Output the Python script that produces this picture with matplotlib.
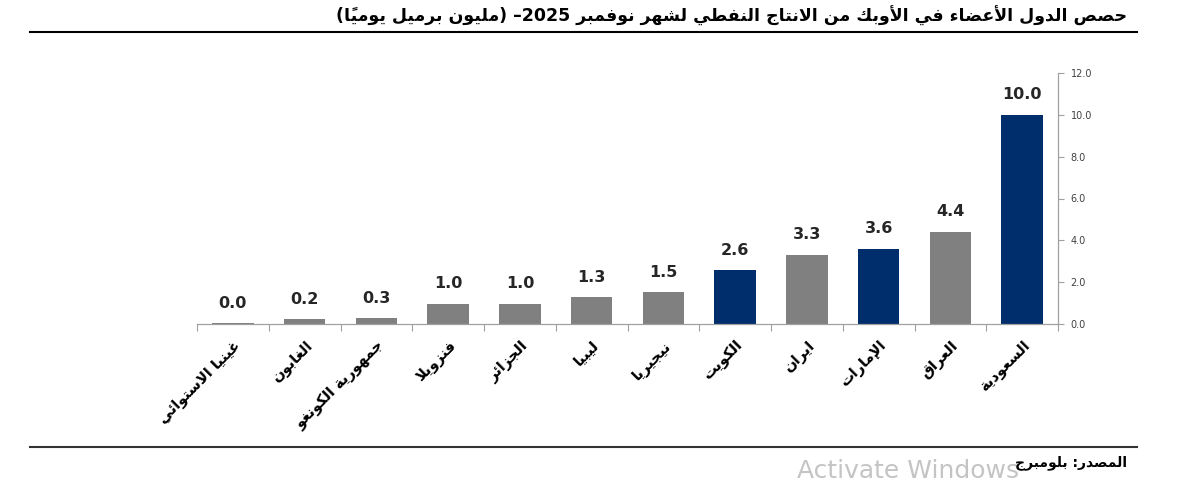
import matplotlib
matplotlib.use("Agg")
import matplotlib.pyplot as plt
import numpy as np
from matplotlib.lines import Line2D

# data, in display order (left to right)
countries = ["غينيا الاستوائي", "الغابون", "جمهورية الكونغو", "فنزويلا", "الجزائر", "ليبيا",
             "نيجيريا", "الكويت", "ايران", "الإمارات", "العراق", "السعودية"]
production = [0.04, 0.22, 0.27, 0.97, 0.97, 1.28, 1.52, 2.58, 3.3, 3.6, 4.4, 10.0]
highlight = [False, False, False, False, False, False, False, True, False, True, False, True]
yticks = [0, 2, 4, 6, 8, 10, 12]

title = "حصص الدول الأعضاء في الأوبك من الانتاج النفطي لشهر نوفمبر 2025– (مليون برميل يومياً)"
source = "المصدر: بلومبرج"

NAVY = "#002d6b"
GRAY = "#808080"

# --- minimal arabic shaping (matplotlib has no text shaping) ---
# letter: (isolated, final, initial, medial); right-joining letters have only 2 forms
FORMS = {
    "ء": (0xFE80,), "آ": (0xFE81, 0xFE82), "أ": (0xFE83, 0xFE84), "ؤ": (0xFE85, 0xFE86),
    "إ": (0xFE87, 0xFE88), "ئ": (0xFE89, 0xFE8A, 0xFE8B, 0xFE8C), "ا": (0xFE8D, 0xFE8E),
    "ب": (0xFE8F, 0xFE90, 0xFE91, 0xFE92), "ة": (0xFE93, 0xFE94),
    "ت": (0xFE95, 0xFE96, 0xFE97, 0xFE98), "ث": (0xFE99, 0xFE9A, 0xFE9B, 0xFE9C),
    "ج": (0xFE9D, 0xFE9E, 0xFE9F, 0xFEA0), "ح": (0xFEA1, 0xFEA2, 0xFEA3, 0xFEA4),
    "خ": (0xFEA5, 0xFEA6, 0xFEA7, 0xFEA8), "د": (0xFEA9, 0xFEAA), "ذ": (0xFEAB, 0xFEAC),
    "ر": (0xFEAD, 0xFEAE), "ز": (0xFEAF, 0xFEB0), "س": (0xFEB1, 0xFEB2, 0xFEB3, 0xFEB4),
    "ش": (0xFEB5, 0xFEB6, 0xFEB7, 0xFEB8), "ص": (0xFEB9, 0xFEBA, 0xFEBB, 0xFEBC),
    "ض": (0xFEBD, 0xFEBE, 0xFEBF, 0xFEC0), "ط": (0xFEC1, 0xFEC2, 0xFEC3, 0xFEC4),
    "ظ": (0xFEC5, 0xFEC6, 0xFEC7, 0xFEC8), "ع": (0xFEC9, 0xFECA, 0xFECB, 0xFECC),
    "غ": (0xFECD, 0xFECE, 0xFECF, 0xFED0), "ف": (0xFED1, 0xFED2, 0xFED3, 0xFED4),
    "ق": (0xFED5, 0xFED6, 0xFED7, 0xFED8), "ك": (0xFED9, 0xFEDA, 0xFEDB, 0xFEDC),
    "ل": (0xFEDD, 0xFEDE, 0xFEDF, 0xFEE0), "م": (0xFEE1, 0xFEE2, 0xFEE3, 0xFEE4),
    "ن": (0xFEE5, 0xFEE6, 0xFEE7, 0xFEE8), "ه": (0xFEE9, 0xFEEA, 0xFEEB, 0xFEEC),
    "و": (0xFEED, 0xFEEE), "ى": (0xFEEF, 0xFEF0), "ي": (0xFEF1, 0xFEF2, 0xFEF3, 0xFEF4),
}
LAM_ALEF = {"آ": (0xFEF5, 0xFEF6), "أ": (0xFEF7, 0xFEF8), "إ": (0xFEF9, 0xFEFA), "ا": (0xFEFB, 0xFEFC)}
MIRROR = {"(": ")", ")": "("}


def is_mark(c):
    return len(c) == 1 and (0x064B <= ord(c) <= 0x065F or c == "\u0670")


def shape(text):
    # merge lam-alef
    chars = []
    i = 0
    while i < len(text):
        c = text[i]
        if c == "ل" and i + 1 < len(text) and text[i + 1] in LAM_ALEF:
            chars.append(("LA", text[i + 1]))
            i += 2
        else:
            chars.append((c, None))
            i += 1

    def joins_next(k):
        c = chars[k][0]
        return c in FORMS and len(FORMS[c]) == 4

    def joins_prev(k):
        c = chars[k][0]
        return c == "LA" or (c in FORMS and len(FORMS[c]) >= 2)

    def prev_idx(k):
        k -= 1
        while k >= 0 and is_mark(chars[k][0]):
            k -= 1
        return k

    def next_idx(k):
        k += 1
        while k < len(chars) and is_mark(chars[k][0]):
            k += 1
        return k

    out = []
    for k, (c, extra) in enumerate(chars):
        p, n = prev_idx(k), next_idx(k)
        cp = p >= 0 and joins_next(p) and joins_prev(k)
        cn = n < len(chars) and joins_next(k) and joins_prev(n)
        if c == "LA":
            out.append(chr(LAM_ALEF[extra][1 if cp else 0]))
        elif c in FORMS:
            f = FORMS[c]
            if len(f) == 4:
                idx = 3 if (cp and cn) else 1 if cp else 2 if cn else 0
            elif len(f) == 2:
                idx = 1 if cp else 0
            else:
                idx = 0
            out.append(chr(f[idx]))
        else:
            out.append(c)
    return "".join(out)


def rtl(text):
    s = shape(text)
    # group into clusters (base + marks) and LTR digit runs
    tokens = []
    for c in s:
        if is_mark(c) and tokens:
            tokens[-1] += c
        elif c.isdigit() and tokens and tokens[-1].isdigit():
            tokens[-1] += c
        else:
            tokens.append(MIRROR.get(c, c))
    return "".join(reversed(tokens))


plt.rcParams["font.family"] = ["DejaVu Sans"]

fig = plt.figure(figsize=(12, 4.84), dpi=100)
ax = fig.add_axes([197 / 1200, 1 - 324 / 484, (1058 - 197) / 1200, (324 - 73) / 484])

x = np.arange(len(countries))
colors = [NAVY if h else GRAY for h in highlight]
ax.bar(x, production, width=0.58, color=colors, zorder=2)

for xi, v in zip(x, production):
    ax.annotate(f"{v:.1f}", (xi, v), xytext=(0, 9), textcoords="offset points",
                ha="center", va="bottom", fontsize=11.5, fontweight="bold", color="#262626")

ax.set_xlim(-0.5, len(countries) - 0.5)
ax.set_ylim(0, 12)
ax.yaxis.tick_right()
ax.set_yticks(yticks)
ax.set_yticklabels([f"{t:.1f}" for t in yticks], fontsize=7, color="#404040")
ax.tick_params(axis="y", direction="out", length=4, width=0.8, color="#a0a0a0", pad=5)

ax.set_xticks(x)
ax.set_xticklabels([rtl(c) for c in countries], rotation=45, ha="right",
                   rotation_mode="anchor", fontsize=10.5, fontweight="bold", color="black")
ax.tick_params(axis="x", length=0, pad=10)
ax.set_xticks(np.arange(-0.5, len(countries), 1), minor=True)
ax.tick_params(axis="x", which="minor", length=5, width=0.8, color="#a0a0a0")

for side in ["top", "left"]:
    ax.spines[side].set_visible(False)
for side in ["bottom", "right"]:
    ax.spines[side].set_color("#a0a0a0")
    ax.spines[side].set_linewidth(0.9)

# title, rules and source
fig.text(1127 / 1200, 1 - 16 / 484, rtl(title), ha="right", va="center",
         fontsize=12.5, fontweight="bold", color="black")
fig.add_artist(Line2D([30 / 1200, 1137 / 1200], [1 - 32 / 484] * 2, color="black", lw=1.5))
fig.add_artist(Line2D([30 / 1200, 1137 / 1200], [1 - 447 / 484] * 2, color="#333333", lw=1.5))
fig.text(1127 / 1200, 1 - 463 / 484, rtl(source), ha="right", va="center",
         fontsize=10, fontweight="bold", color="black", zorder=3)
fig.text(797 / 1200, 1 / 484, "Activate Windows", ha="left", va="bottom",
         fontsize=18, color="#c4c4c4", zorder=2)

fig.savefig("out.png", dpi=100)
